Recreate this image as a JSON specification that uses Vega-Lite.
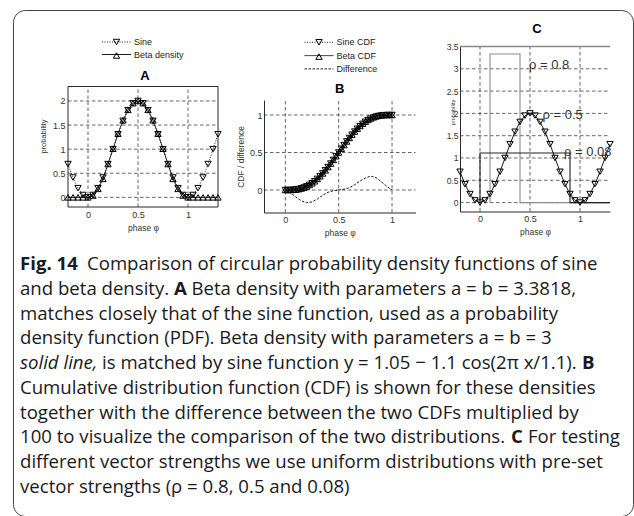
{
  "$schema": "https://vega.github.io/schema/vega-lite/v6.json",
  "width": 620,
  "height": 506,
  "autosize": {"type": "none"},
  "padding": {"left": 13, "top": 10, "right": 1, "bottom": 0},
  "background": "white",
  "config": {
    "font": "Liberation Sans",
    "view": {"stroke": "#444", "strokeWidth": 1, "cornerRadius": 12},
    "axis": {"labelFont": "Liberation Sans", "titleFont": "Liberation Sans", "labelColor": "#333", "titleColor": "#333", "titleFontWeight": "normal", "ticks": false, "grid": false, "domainColor": "#111", "domainWidth": 0.9, "labelFontSize": 9, "titleFontSize": 8.5, "labelFlush": false, "labelOverlap": false},
    "legend": {"labelFont": "Liberation Sans", "labelColor": "#222", "labelFontSize": 9}
  },
  "datasets": {
    "pdfA": [
      {"x": -0.2, "y": 0.691, "series": "Sine"}, {"x": -0.15, "y": 0.412, "series": "Sine"}, {"x": -0.1, "y": 0.191, "series": "Sine"}, {"x": -0.05, "y": 0.049, "series": "Sine"},
      {"x": 0, "y": 0, "series": "Sine"}, {"x": 0.05, "y": 0.049, "series": "Sine"}, {"x": 0.1, "y": 0.191, "series": "Sine"}, {"x": 0.15, "y": 0.412, "series": "Sine"},
      {"x": 0.2, "y": 0.691, "series": "Sine"}, {"x": 0.25, "y": 1.0, "series": "Sine"}, {"x": 0.3, "y": 1.309, "series": "Sine"}, {"x": 0.35, "y": 1.588, "series": "Sine"},
      {"x": 0.4, "y": 1.809, "series": "Sine"}, {"x": 0.45, "y": 1.951, "series": "Sine"}, {"x": 0.5, "y": 2.0, "series": "Sine"}, {"x": 0.55, "y": 1.951, "series": "Sine"},
      {"x": 0.6, "y": 1.809, "series": "Sine"}, {"x": 0.65, "y": 1.588, "series": "Sine"}, {"x": 0.7, "y": 1.309, "series": "Sine"}, {"x": 0.75, "y": 1.0, "series": "Sine"},
      {"x": 0.8, "y": 0.691, "series": "Sine"}, {"x": 0.85, "y": 0.412, "series": "Sine"}, {"x": 0.9, "y": 0.191, "series": "Sine"}, {"x": 0.95, "y": 0.049, "series": "Sine"},
      {"x": 1.0, "y": 0, "series": "Sine"}, {"x": 1.05, "y": 0.049, "series": "Sine"}, {"x": 1.1, "y": 0.191, "series": "Sine"}, {"x": 1.15, "y": 0.412, "series": "Sine"},
      {"x": 1.2, "y": 0.691, "series": "Sine"}, {"x": 1.25, "y": 1.0, "series": "Sine"}, {"x": 1.3, "y": 1.309, "series": "Sine"},
      {"x": -0.2, "y": 0, "series": "Beta density"}, {"x": -0.15, "y": 0, "series": "Beta density"}, {"x": -0.1, "y": 0, "series": "Beta density"}, {"x": -0.05, "y": 0, "series": "Beta density"},
      {"x": 0, "y": 0, "series": "Beta density"}, {"x": 0.05, "y": 0.038, "series": "Beta density"}, {"x": 0.1, "y": 0.176, "series": "Beta density"}, {"x": 0.15, "y": 0.383, "series": "Beta density"},
      {"x": 0.2, "y": 0.691, "series": "Beta density"}, {"x": 0.25, "y": 1.008, "series": "Beta density"}, {"x": 0.3, "y": 1.321, "series": "Beta density"}, {"x": 0.35, "y": 1.598, "series": "Beta density"},
      {"x": 0.4, "y": 1.815, "series": "Beta density"}, {"x": 0.45, "y": 1.953, "series": "Beta density"}, {"x": 0.5, "y": 2.0, "series": "Beta density"}, {"x": 0.55, "y": 1.953, "series": "Beta density"},
      {"x": 0.6, "y": 1.815, "series": "Beta density"}, {"x": 0.65, "y": 1.598, "series": "Beta density"}, {"x": 0.7, "y": 1.321, "series": "Beta density"}, {"x": 0.75, "y": 1.008, "series": "Beta density"},
      {"x": 0.8, "y": 0.691, "series": "Beta density"}, {"x": 0.85, "y": 0.383, "series": "Beta density"}, {"x": 0.9, "y": 0.176, "series": "Beta density"}, {"x": 0.95, "y": 0.038, "series": "Beta density"},
      {"x": 1.0, "y": 0, "series": "Beta density"}, {"x": 1.05, "y": 0, "series": "Beta density"}, {"x": 1.1, "y": 0, "series": "Beta density"}, {"x": 1.15, "y": 0, "series": "Beta density"},
      {"x": 1.2, "y": 0, "series": "Beta density"}, {"x": 1.25, "y": 0, "series": "Beta density"}, {"x": 1.3, "y": 0, "series": "Beta density"}
    ],
    "cdfB": [
      {"x": 0, "y": 0, "series": "Sine CDF"}, {"x": 0.025, "y": 0.0001, "series": "Sine CDF"}, {"x": 0.05, "y": 0.0008, "series": "Sine CDF"}, {"x": 0.075, "y": 0.0027, "series": "Sine CDF"},
      {"x": 0.1, "y": 0.0065, "series": "Sine CDF"}, {"x": 0.125, "y": 0.0125, "series": "Sine CDF"}, {"x": 0.15, "y": 0.0212, "series": "Sine CDF"}, {"x": 0.175, "y": 0.0332, "series": "Sine CDF"},
      {"x": 0.2, "y": 0.0486, "series": "Sine CDF"}, {"x": 0.225, "y": 0.0678, "series": "Sine CDF"}, {"x": 0.25, "y": 0.0908, "series": "Sine CDF"}, {"x": 0.275, "y": 0.1178, "series": "Sine CDF"},
      {"x": 0.3, "y": 0.1486, "series": "Sine CDF"}, {"x": 0.325, "y": 0.1832, "series": "Sine CDF"}, {"x": 0.35, "y": 0.2212, "series": "Sine CDF"}, {"x": 0.375, "y": 0.2625, "series": "Sine CDF"},
      {"x": 0.4, "y": 0.3065, "series": "Sine CDF"}, {"x": 0.425, "y": 0.3527, "series": "Sine CDF"}, {"x": 0.45, "y": 0.4008, "series": "Sine CDF"}, {"x": 0.475, "y": 0.4501, "series": "Sine CDF"},
      {"x": 0.5, "y": 0.5, "series": "Sine CDF"}, {"x": 0.525, "y": 0.5499, "series": "Sine CDF"}, {"x": 0.55, "y": 0.5992, "series": "Sine CDF"}, {"x": 0.575, "y": 0.6473, "series": "Sine CDF"},
      {"x": 0.6, "y": 0.6935, "series": "Sine CDF"}, {"x": 0.625, "y": 0.7375, "series": "Sine CDF"}, {"x": 0.65, "y": 0.7788, "series": "Sine CDF"}, {"x": 0.675, "y": 0.8168, "series": "Sine CDF"},
      {"x": 0.7, "y": 0.8514, "series": "Sine CDF"}, {"x": 0.725, "y": 0.8822, "series": "Sine CDF"}, {"x": 0.75, "y": 0.9092, "series": "Sine CDF"}, {"x": 0.775, "y": 0.9322, "series": "Sine CDF"},
      {"x": 0.8, "y": 0.9514, "series": "Sine CDF"}, {"x": 0.825, "y": 0.9668, "series": "Sine CDF"}, {"x": 0.85, "y": 0.9788, "series": "Sine CDF"}, {"x": 0.875, "y": 0.9875, "series": "Sine CDF"},
      {"x": 0.9, "y": 0.9935, "series": "Sine CDF"}, {"x": 0.925, "y": 0.9973, "series": "Sine CDF"}, {"x": 0.95, "y": 0.9992, "series": "Sine CDF"}, {"x": 0.975, "y": 0.9999, "series": "Sine CDF"},
      {"x": 1.0, "y": 1.0, "series": "Sine CDF"},
      {"x": 0, "y": 0, "series": "Beta CDF"}, {"x": 0.025, "y": 0.0, "series": "Beta CDF"}, {"x": 0.05, "y": 0.0004, "series": "Beta CDF"}, {"x": 0.075, "y": 0.002, "series": "Beta CDF"},
      {"x": 0.1, "y": 0.0056, "series": "Beta CDF"}, {"x": 0.125, "y": 0.0113, "series": "Beta CDF"}, {"x": 0.15, "y": 0.0197, "series": "Beta CDF"}, {"x": 0.175, "y": 0.0316, "series": "Beta CDF"},
      {"x": 0.2, "y": 0.0469, "series": "Beta CDF"}, {"x": 0.225, "y": 0.0661, "series": "Beta CDF"}, {"x": 0.25, "y": 0.0892, "series": "Beta CDF"}, {"x": 0.275, "y": 0.1164, "series": "Beta CDF"},
      {"x": 0.3, "y": 0.1474, "series": "Beta CDF"}, {"x": 0.325, "y": 0.1822, "series": "Beta CDF"}, {"x": 0.35, "y": 0.2205, "series": "Beta CDF"}, {"x": 0.375, "y": 0.262, "series": "Beta CDF"},
      {"x": 0.4, "y": 0.3062, "series": "Beta CDF"}, {"x": 0.425, "y": 0.3525, "series": "Beta CDF"}, {"x": 0.45, "y": 0.4007, "series": "Beta CDF"}, {"x": 0.475, "y": 0.4501, "series": "Beta CDF"},
      {"x": 0.5, "y": 0.5, "series": "Beta CDF"}, {"x": 0.525, "y": 0.55, "series": "Beta CDF"}, {"x": 0.55, "y": 0.5993, "series": "Beta CDF"}, {"x": 0.575, "y": 0.6475, "series": "Beta CDF"},
      {"x": 0.6, "y": 0.6938, "series": "Beta CDF"}, {"x": 0.625, "y": 0.738, "series": "Beta CDF"}, {"x": 0.65, "y": 0.7795, "series": "Beta CDF"}, {"x": 0.675, "y": 0.8178, "series": "Beta CDF"},
      {"x": 0.7, "y": 0.8526, "series": "Beta CDF"}, {"x": 0.725, "y": 0.8836, "series": "Beta CDF"}, {"x": 0.75, "y": 0.9108, "series": "Beta CDF"}, {"x": 0.775, "y": 0.9339, "series": "Beta CDF"},
      {"x": 0.8, "y": 0.9532, "series": "Beta CDF"}, {"x": 0.825, "y": 0.9686, "series": "Beta CDF"}, {"x": 0.85, "y": 0.9805, "series": "Beta CDF"}, {"x": 0.875, "y": 0.9889, "series": "Beta CDF"},
      {"x": 0.9, "y": 0.9946, "series": "Beta CDF"}, {"x": 0.925, "y": 0.9981, "series": "Beta CDF"}, {"x": 0.95, "y": 0.9997, "series": "Beta CDF"}, {"x": 0.975, "y": 1.0, "series": "Beta CDF"},
      {"x": 1.0, "y": 1.0, "series": "Beta CDF"},
      {"x": 0, "y": 0, "series": "Difference"}, {"x": 0.05, "y": -0.04, "series": "Difference"}, {"x": 0.1, "y": -0.095, "series": "Difference"}, {"x": 0.15, "y": -0.145, "series": "Difference"},
      {"x": 0.2, "y": -0.17, "series": "Difference"}, {"x": 0.25, "y": -0.16, "series": "Difference"}, {"x": 0.3, "y": -0.12, "series": "Difference"}, {"x": 0.35, "y": -0.07, "series": "Difference"},
      {"x": 0.4, "y": -0.03, "series": "Difference"}, {"x": 0.45, "y": -0.01, "series": "Difference"}, {"x": 0.5, "y": 0, "series": "Difference"}, {"x": 0.55, "y": 0.01, "series": "Difference"},
      {"x": 0.6, "y": 0.03, "series": "Difference"}, {"x": 0.65, "y": 0.07, "series": "Difference"}, {"x": 0.7, "y": 0.12, "series": "Difference"}, {"x": 0.75, "y": 0.16, "series": "Difference"},
      {"x": 0.8, "y": 0.185, "series": "Difference"}, {"x": 0.85, "y": 0.165, "series": "Difference"}, {"x": 0.9, "y": 0.11, "series": "Difference"}, {"x": 0.95, "y": 0.05, "series": "Difference"},
      {"x": 1.0, "y": 0, "series": "Difference"}
    ],
    "sineC": [
      {"x": -0.2, "y": 0.691}, {"x": -0.15, "y": 0.412}, {"x": -0.1, "y": 0.191}, {"x": -0.05, "y": 0.049},
      {"x": 0, "y": 0}, {"x": 0.05, "y": 0.049}, {"x": 0.1, "y": 0.191}, {"x": 0.15, "y": 0.412},
      {"x": 0.2, "y": 0.691}, {"x": 0.25, "y": 1.0}, {"x": 0.3, "y": 1.309}, {"x": 0.35, "y": 1.588},
      {"x": 0.4, "y": 1.809}, {"x": 0.45, "y": 1.951}, {"x": 0.5, "y": 2.0}, {"x": 0.55, "y": 1.951},
      {"x": 0.6, "y": 1.809}, {"x": 0.65, "y": 1.588}, {"x": 0.7, "y": 1.309}, {"x": 0.75, "y": 1.0},
      {"x": 0.8, "y": 0.691}, {"x": 0.85, "y": 0.412}, {"x": 0.9, "y": 0.191}, {"x": 0.95, "y": 0.049},
      {"x": 1.0, "y": 0}, {"x": 1.05, "y": 0.049}, {"x": 1.1, "y": 0.191}, {"x": 1.15, "y": 0.412},
      {"x": 1.2, "y": 0.691}, {"x": 1.25, "y": 1.0}, {"x": 1.3, "y": 1.309}
    ],
    "uniC": [
      {"x": 0.1, "y": 0, "dist": "ρ = 0.8", "ord": 1}, {"x": 0.1, "y": 3.333, "dist": "ρ = 0.8", "ord": 2}, {"x": 0.4, "y": 3.333, "dist": "ρ = 0.8", "ord": 3}, {"x": 0.4, "y": 0, "dist": "ρ = 0.8", "ord": 4}, {"x": 1.3, "y": 0, "dist": "ρ = 0.8", "ord": 5},
      {"x": 0, "y": 0, "dist": "ρ = 0.08", "ord": 1}, {"x": 0, "y": 1.111, "dist": "ρ = 0.08", "ord": 2}, {"x": 0.9, "y": 1.111, "dist": "ρ = 0.08", "ord": 3}, {"x": 0.9, "y": 0, "dist": "ρ = 0.08", "ord": 4}, {"x": 1.3, "y": 0, "dist": "ρ = 0.08", "ord": 5}
    ],
    "rhoC": [
      {"x": 0.49, "y": 3.08, "label": "ρ = 0.8"},
      {"x": 0.625, "y": 1.96, "label": "ρ = 0.5"},
      {"x": 0.84, "y": 1.13, "label": "ρ = 0.08"}
    ],
    "caption": [
      {"line": 1, "seg": "b0", "text": "Fig. 14"},
      {"line": 1, "seg": "r1", "text": "Comparison of circular probability density functions of sine"},
      {"line": 2, "seg": "r0", "text": "and beta density."},
      {"line": 2, "seg": "bA", "text": "A"},
      {"line": 2, "seg": "rA", "text": "Beta density with parameters a = b = 3.3818,"},
      {"line": 3, "seg": "r0", "text": "matches closely that of the sine function, used as a probability"},
      {"line": 4, "seg": "r0", "text": "density function (PDF). Beta density with parameters a = b = 3"},
      {"line": 5, "seg": "i0", "text": "solid line,"},
      {"line": 5, "seg": "r5", "text": "is matched by sine function y = 1.05 − 1.1 cos(2π x/1.1)."},
      {"line": 5, "seg": "bB", "text": "B"},
      {"line": 6, "seg": "r0", "text": "Cumulative distribution function (CDF) is shown for these densities"},
      {"line": 7, "seg": "r0", "text": "together with the difference between the two CDFs multiplied by"},
      {"line": 8, "seg": "r0", "text": "100 to visualize the comparison of the two distributions."},
      {"line": 8, "seg": "bC", "text": "C"},
      {"line": 8, "seg": "rC", "text": "For testing"},
      {"line": 9, "seg": "r0", "text": "different vector strengths we use uniform distributions with pre-set"},
      {"line": 10, "seg": "r0", "text": "vector strengths (ρ = 0.8, 0.5 and 0.08)"}
    ]
  },
  "layer": [
    {
      "layer": [
        {
          "data": {"values": [{"v": 0}, {"v": 0.5}, {"v": 1}]},
          "mark": {"type": "rule", "color": "#222", "strokeWidth": 0.7, "strokeDash": [3.5, 2.5]},
          "encoding": {"x": {"field": "v", "type": "quantitative"}, "y": {"datum": -0.2}, "y2": {"datum": 2.3}}
        },
        {
          "data": {"values": [{"v": 0}, {"v": 0.5}, {"v": 1}, {"v": 1.5}, {"v": 2}]},
          "mark": {"type": "rule", "color": "#222", "strokeWidth": 0.7, "strokeDash": [3.5, 2.5]},
          "encoding": {"y": {"field": "v", "type": "quantitative"}, "x": {"datum": -0.2}, "x2": {"datum": 1.3}}
        },
        {
          "data": {"values": [{}]},
          "mark": {"type": "rect", "filled": false, "color": "#111", "strokeWidth": 0.9},
          "encoding": {"x": {"datum": -0.2}, "x2": {"datum": 1.3}, "y": {"datum": -0.2}, "y2": {"datum": 2.3}}
        },
        {
          "data": {"name": "pdfA"},
          "mark": {"type": "line", "color": "black", "strokeWidth": 0.9},
          "encoding": {
            "x": {"field": "x", "type": "quantitative", "scale": {"domain": [-0.2, 1.3], "range": [55, 205], "nice": false, "zero": false},
                  "axis": {"orient": "bottom", "offset": -309, "values": [0, 0.5, 1], "format": "~g", "domain": false, "title": "phase φ", "labelPadding": 3, "titlePadding": 4}},
            "y": {"field": "y", "type": "quantitative", "scale": {"domain": [-0.2, 2.3], "range": [197, 76.5], "nice": false, "zero": false},
                  "axis": {"orient": "left", "offset": -55, "values": [0, 0.5, 1, 1.5, 2], "format": "~g", "domain": false, "title": "probability", "titleFontSize": 7.5, "titleAngle": -90, "titleX": -25, "titleY": 126, "titleAlign": "center", "titleBaseline": "middle", "labelPadding": 3}},
            "strokeDash": {"field": "series", "type": "nominal", "scale": {"domain": ["Sine", "Beta density"], "range": [[1, 1.5], [1, 0]]},
                  "legend": {"orient": "none", "legendX": 98, "legendY": 26.5, "title": null, "direction": "vertical", "columns": 1, "symbolType": "M-2.9,0L2.9,0", "symbolSize": 100, "symbolStrokeWidth": 0.9, "symbolStrokeColor": "black", "symbolFillColor": "transparent", "rowPadding": 1.5, "labelFontSize": 9, "labelOffset": 12, "padding": 0}}
          }
        },
        {
          "data": {"name": "pdfA"},
          "mark": {"type": "point", "filled": false, "color": "black", "strokeWidth": 1, "size": 40, "opacity": 1},
          "encoding": {
            "x": {"field": "x", "type": "quantitative"},
            "y": {"field": "y", "type": "quantitative"},
            "shape": {"field": "series", "type": "nominal", "sort": "descending", "scale": {"range": ["triangle-down", "triangle-up"]},
                  "legend": {"orient": "none", "legendX": 98, "legendY": 26.5, "title": null, "direction": "vertical", "columns": 1, "symbolSize": 40, "symbolStrokeWidth": 1, "symbolStrokeColor": "black", "symbolFillColor": "transparent", "rowPadding": 1.5, "labelFontSize": 11, "labelExpr": "''", "padding": 0}}
          }
        },
        {
          "data": {"values": [{"t": "A"}]},
          "mark": {"type": "text", "fontSize": 13, "fontWeight": "bold", "color": "black", "align": "center", "baseline": "middle"},
          "encoding": {"x": {"datum": 0.57}, "y": {"datum": 2.52}, "text": {"field": "t"}}
        }
      ]
    },
    {
      "layer": [
        {
          "data": {"values": [{"v": 0}, {"v": 0.5}, {"v": 1}]},
          "mark": {"type": "rule", "color": "#222", "strokeWidth": 0.7, "strokeDash": [3.5, 2.5]},
          "encoding": {"x": {"field": "v", "type": "quantitative"}, "y": {"datum": -0.3}, "y2": {"datum": 1.2}}
        },
        {
          "data": {"values": [{"v": 0}, {"v": 0.5}, {"v": 1}]},
          "mark": {"type": "rule", "color": "#222", "strokeWidth": 0.7, "strokeDash": [3.5, 2.5]},
          "encoding": {"y": {"field": "v", "type": "quantitative"}, "x": {"datum": -0.2}, "x2": {"datum": 1.22}}
        },
        {
          "data": {"name": "cdfB"},
          "mark": {"type": "line", "color": "black", "strokeWidth": 0.9},
          "encoding": {
            "x": {"field": "x", "type": "quantitative", "scale": {"domain": [-0.2, 1.22], "range": [251, 402.5], "nice": false, "zero": false},
                  "axis": {"orient": "bottom", "offset": -303.5, "values": [0, 0.5, 1], "format": "~g", "domain": true, "title": "phase φ", "labelPadding": 3, "titlePadding": 4}},
            "y": {"field": "y", "type": "quantitative", "scale": {"domain": [-0.3, 1.2], "range": [202.5, 90], "nice": false, "zero": false},
                  "axis": {"orient": "left", "offset": -251, "values": [0, 0.5, 1], "format": "~g", "domain": true, "title": "CDF / difference", "titleFontSize": 8.5, "titleAngle": -90, "titleX": -23.5, "titleY": 146.5, "titleAlign": "center", "titleBaseline": "middle", "labelPadding": 2}},
            "strokeDash": {"field": "series", "type": "nominal", "scale": {"domain": ["Sine CDF", "Beta CDF", "Difference"], "range": [[1, 1.5], [1, 0], [2.5, 1.5]]},
                  "legend": {"orient": "none", "legendX": 300.5, "legendY": 26.8, "title": null, "direction": "vertical", "columns": 1, "symbolType": "M-2.9,0L2.9,0", "symbolSize": 100, "symbolStrokeWidth": 0.9, "symbolStrokeColor": "black", "symbolFillColor": "transparent", "rowPadding": 2.3, "labelFontSize": 9, "labelOffset": 12, "padding": 0}}
          }
        },
        {
          "data": {"name": "cdfB"},
          "transform": [{"filter": "datum.series !== 'Difference'"}],
          "mark": {"type": "point", "filled": false, "color": "black", "strokeWidth": 1, "size": 40, "opacity": 1},
          "encoding": {
            "x": {"field": "x", "type": "quantitative"},
            "y": {"field": "y", "type": "quantitative"},
            "shape": {"field": "series", "type": "nominal", "sort": "descending", "scale": {"range": ["triangle-down", "triangle-up"]},
                  "legend": {"orient": "none", "legendX": 300.5, "legendY": 26.8, "title": null, "direction": "vertical", "columns": 1, "symbolSize": 40, "symbolStrokeWidth": 1, "symbolStrokeColor": "black", "symbolFillColor": "transparent", "rowPadding": 2.3, "labelFontSize": 11, "labelExpr": "''", "padding": 0}}
          }
        },
        {
          "data": {"values": [{"t": "B"}]},
          "mark": {"type": "text", "fontSize": 13, "fontWeight": "bold", "color": "black", "align": "center", "baseline": "middle"},
          "encoding": {"x": {"datum": 0.51}, "y": {"datum": 1.347}, "text": {"field": "t"}}
        }
      ]
    },
    {
      "layer": [
        {
          "data": {"values": [{"v": 0}, {"v": 0.5}, {"v": 1}]},
          "mark": {"type": "rule", "color": "#222", "strokeWidth": 0.7, "strokeDash": [3.5, 2.5]},
          "encoding": {"x": {"field": "v", "type": "quantitative"}, "y": {"datum": -0.2}, "y2": {"datum": 3.5}}
        },
        {
          "data": {"values": [{"v": 0}, {"v": 0.5}, {"v": 1}, {"v": 1.5}, {"v": 2}, {"v": 2.5}, {"v": 3}]},
          "mark": {"type": "rule", "color": "#222", "strokeWidth": 0.7, "strokeDash": [3.5, 2.5]},
          "encoding": {"y": {"field": "v", "type": "quantitative"}, "x": {"datum": -0.2}, "x2": {"datum": 1.3}}
        },
        {
          "data": {"values": [{}]},
          "mark": {"type": "rule", "color": "#8a8a8a", "strokeWidth": 1.6},
          "encoding": {"y": {"datum": 3.5}, "x": {"datum": -0.2}, "x2": {"datum": 1.3}}
        },
        {
          "data": {"name": "uniC"},
          "mark": {"type": "line", "strokeWidth": 1.1},
          "encoding": {
            "x": {"field": "x", "type": "quantitative"},
            "y": {"field": "y", "type": "quantitative"},
            "order": {"field": "ord", "type": "quantitative"},
            "color": {"field": "dist", "type": "nominal", "scale": {"domain": ["ρ = 0.8", "ρ = 0.08"], "range": ["#8c8c8c", "#222222"]}, "legend": null}
          }
        },
        {
          "data": {"name": "sineC"},
          "mark": {"type": "line", "color": "black", "strokeWidth": 0.9},
          "encoding": {
            "x": {"field": "x", "type": "quantitative", "scale": {"domain": [-0.2, 1.3], "range": [447, 597], "nice": false, "zero": false},
                  "axis": {"orient": "bottom", "offset": -304.5, "values": [0, 0.5, 1], "format": "~g", "domain": true, "title": "phase φ", "labelPadding": 3, "titlePadding": 4}},
            "y": {"field": "y", "type": "quantitative", "scale": {"domain": [-0.2, 3.5], "range": [201.5, 36.5], "nice": false, "zero": false},
                  "axis": {"orient": "left", "offset": -447, "values": [0, 0.5, 1, 1.5, 2, 2.5, 3, 3.5], "format": "~g", "domain": true, "title": "probability", "titleFontSize": 5.6, "titleAngle": -90, "titleX": -8, "titleY": 102, "titleAlign": "center", "titleBaseline": "middle", "labelPadding": 2, "labelFontSize": 8.5}}
          }
        },
        {
          "data": {"name": "sineC"},
          "mark": {"type": "point", "filled": false, "color": "black", "strokeWidth": 1, "size": 40, "opacity": 1, "shape": "triangle-down"},
          "encoding": {"x": {"field": "x", "type": "quantitative"}, "y": {"field": "y", "type": "quantitative"}}
        },
        {
          "data": {"name": "rhoC"},
          "mark": {"type": "text", "fontSize": 13, "color": "#333", "align": "left", "baseline": "middle"},
          "encoding": {"x": {"field": "x", "type": "quantitative"}, "y": {"field": "y", "type": "quantitative"}, "text": {"field": "label"}}
        },
        {
          "data": {"values": [{"t": "C"}]},
          "mark": {"type": "text", "fontSize": 13, "fontWeight": "bold", "color": "black", "align": "center", "baseline": "middle"},
          "encoding": {"x": {"datum": 0.57}, "y": {"datum": 3.893}, "text": {"field": "t"}}
        }
      ]
    },
    {
      "data": {"name": "caption"},
      "layer": [
        {
          "transform": [{"filter": "datum.seg === 'r0'"}],
          "mark": {"type": "text", "font": "Open Sans", "fontSize": 18.6, "align": "left", "baseline": "middle", "color": "#1a1a1a"},
          "encoding": {
            "x": {"datum": 0, "type": "quantitative", "scale": {"domain": [0, 1], "range": [7, 607], "nice": false, "zero": false}, "axis": null},
            "y": {"field": "line", "type": "quantitative", "scale": {"domain": [1, 10], "range": [254, 477], "nice": false, "zero": false}, "axis": null},
            "text": {"field": "text"}
          }
        },
        {
          "transform": [{"filter": "datum.seg === 'b0'"}],
          "mark": {"type": "text", "font": "Open Sans", "fontSize": 18.6, "fontWeight": "bold", "align": "left", "baseline": "middle", "color": "#1a1a1a"},
          "encoding": {"x": {"datum": 0, "axis": null}, "y": {"field": "line", "type": "quantitative", "axis": null}, "text": {"field": "text"}}
        },
        {
          "transform": [{"filter": "datum.seg === 'i0'"}],
          "mark": {"type": "text", "font": "Open Sans", "fontSize": 18.6, "fontStyle": "italic", "align": "left", "baseline": "middle", "color": "#1a1a1a"},
          "encoding": {"x": {"datum": 0, "axis": null}, "y": {"field": "line", "type": "quantitative", "axis": null}, "text": {"field": "text"}}
        },
        {
          "transform": [{"filter": "datum.seg === 'r1'"}],
          "mark": {"type": "text", "font": "Open Sans", "fontSize": 18.6, "align": "left", "baseline": "middle", "color": "#1a1a1a", "dx": 67},
          "encoding": {"x": {"datum": 0, "axis": null}, "y": {"field": "line", "type": "quantitative", "axis": null}, "text": {"field": "text"}}
        },
        {
          "transform": [{"filter": "datum.seg === 'bA'"}],
          "mark": {"type": "text", "font": "Open Sans", "fontSize": 18.6, "fontWeight": "bold", "align": "left", "baseline": "middle", "color": "#1a1a1a", "dx": 154},
          "encoding": {"x": {"datum": 0, "axis": null}, "y": {"field": "line", "type": "quantitative", "axis": null}, "text": {"field": "text"}}
        },
        {
          "transform": [{"filter": "datum.seg === 'rA'"}],
          "mark": {"type": "text", "font": "Open Sans", "fontSize": 18.6, "align": "left", "baseline": "middle", "color": "#1a1a1a", "dx": 171.5},
          "encoding": {"x": {"datum": 0, "axis": null}, "y": {"field": "line", "type": "quantitative", "axis": null}, "text": {"field": "text"}}
        },
        {
          "transform": [{"filter": "datum.seg === 'r5'"}],
          "mark": {"type": "text", "font": "Open Sans", "fontSize": 18.6, "align": "left", "baseline": "middle", "color": "#1a1a1a", "dx": 82},
          "encoding": {"x": {"datum": 0, "axis": null}, "y": {"field": "line", "type": "quantitative", "axis": null}, "text": {"field": "text"}}
        },
        {
          "transform": [{"filter": "datum.seg === 'bB'"}],
          "mark": {"type": "text", "font": "Open Sans", "fontSize": 18.6, "fontWeight": "bold", "align": "left", "baseline": "middle", "color": "#1a1a1a", "dx": 562},
          "encoding": {"x": {"datum": 0, "axis": null}, "y": {"field": "line", "type": "quantitative", "axis": null}, "text": {"field": "text"}}
        },
        {
          "transform": [{"filter": "datum.seg === 'bC'"}],
          "mark": {"type": "text", "font": "Open Sans", "fontSize": 18.6, "fontWeight": "bold", "align": "left", "baseline": "middle", "color": "#1a1a1a", "dx": 491},
          "encoding": {"x": {"datum": 0, "axis": null}, "y": {"field": "line", "type": "quantitative", "axis": null}, "text": {"field": "text"}}
        },
        {
          "transform": [{"filter": "datum.seg === 'rC'"}],
          "mark": {"type": "text", "font": "Open Sans", "fontSize": 18.6, "align": "left", "baseline": "middle", "color": "#1a1a1a", "dx": 508},
          "encoding": {"x": {"datum": 0, "axis": null}, "y": {"field": "line", "type": "quantitative", "axis": null}, "text": {"field": "text"}}
        }
      ]
    }
  ],
  "resolve": {
    "scale": {"x": "independent", "y": "independent", "color": "independent", "shape": "independent", "strokeDash": "independent"},
    "axis": {"x": "independent", "y": "independent"},
    "legend": {"color": "independent", "shape": "independent", "strokeDash": "independent"}
  }
}
